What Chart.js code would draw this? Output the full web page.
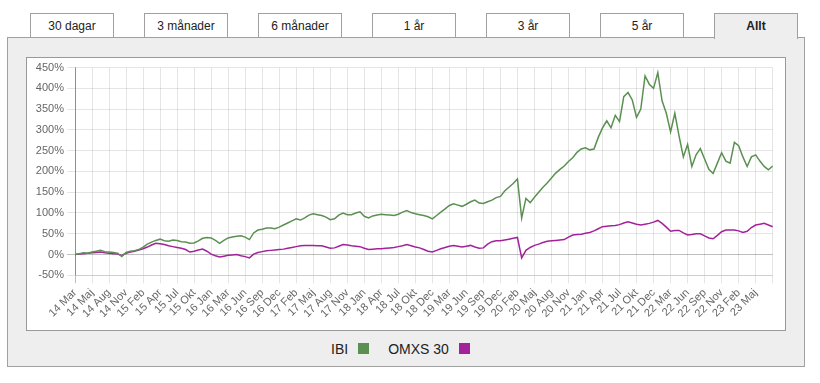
<!DOCTYPE html>
<html>
<head>
<meta charset="utf-8">
<script src="https://cdn.jsdelivr.net/npm/chart.js@4/dist/chart.umd.min.js"></script>
<style>
  body { margin: 0; background: #fff; width: 820px; height: 383px; position: relative; overflow: hidden;
         font-family: "Liberation Sans", Helvetica, Arial, sans-serif; }
  .tab { position: absolute; top: 13px; width: 84px; height: 25px; box-sizing: border-box;
         border: 1px solid #a0a0a0; border-bottom: none; background: #fff;
         font-size: 12px; color: #222; text-align: center; line-height: 24px; }
  .tab.active { background: #eee; font-weight: bold; height: 26px; z-index: 2; }
  #panel { position: absolute; left: 7px; top: 37px; width: 798px; height: 330px; box-sizing: border-box;
           border: 1px solid #a0a0a0; background: #eee; z-index: 1; }
  #plotBox { position: absolute; left: 26px; top: 57px; width: 760px; height: 274px; box-sizing: border-box;
             border: 1px solid #999; background: #fff; z-index: 2; }
  #chart { position: absolute; left: 27px; top: 58px; z-index: 3; }
  #legend { position: absolute; left: 331px; top: 340px; z-index: 3; font-size: 14px; color: #222;
            display: flex; align-items: center; height: 17px; }
  #legend .box { display: inline-block; width: 11px; height: 11px; margin-left: 10px; margin-right: 19px; }
</style>
</head>
<body>
<div id="tabs"></div>
<div id="panel"></div>
<div id="plotBox"></div>
<canvas id="chart" width="758" height="272"></canvas>
<div id="legend"></div>

<script>
// tabs above the chart
const tabNames = ['30 dagar', '3 månader', '6 månader', '1 år', '3 år', '5 år', 'Allt'];

// x tick labels (every 4th point)
const tickLabels = ['14 Mar', '14 Maj', '14 Aug', '14 Nov', '15 Feb', '15 Apr', '15 Jul', '15 Okt',
  '16 Jan', '16 Mar', '16 Jun', '16 Sep', '16 Dec', '17 Feb', '17 Maj', '17 Aug', '17 Nov',
  '18 Jan', '18 Apr', '18 Jul', '18 Okt', '18 Dec', '19 Mar', '19 Jun', '19 Sep', '19 Dec',
  '20 Feb', '20 Maj', '20 Aug', '20 Nov', '21 Jan', '21 Apr', '21 Jul', '21 Okt', '21 Dec',
  '22 Mar', '22 Jun', '22 Sep', '22 Nov', '23 Feb', '23 Maj'];

// development in % since start
const ibi = [0, 2, 4, 3, 6, 8, 10, 7, 6, 5, 3, -5, 5, 8, 9, 12, 18, 25, 30, 34,
  37, 33, 32, 35, 34, 31, 30, 27, 28, 33, 39, 41, 40, 34, 27, 34, 40, 42, 44, 45,
  42, 36, 52, 59, 61, 64, 64, 62, 66, 71, 76, 81, 86, 83, 88, 95, 98, 96, 94, 90,
  84, 86, 95, 100, 96, 96, 100, 103, 92, 88, 93, 95, 97, 96, 95, 94, 97, 102, 106, 101,
  98, 96, 94, 91, 86, 94, 102, 110, 118, 122, 119, 116, 121, 127, 131, 124, 123, 127, 131, 137,
  140, 153, 162, 171, 182, 88, 135, 125, 138, 150, 162, 172, 184, 196, 205, 213, 224, 233, 246, 254,
  257, 252, 254, 282, 305, 322, 305, 335, 320, 380, 390, 372, 330, 350, 430, 410, 400, 438, 370, 340,
  295, 340, 285, 235, 265, 212, 240, 255, 230, 205, 195, 220, 245, 225, 220, 270, 262, 235, 212, 235,
  240, 225, 212, 204, 213];

const omx = [0, 1, 2, 3, 4, 5, 6, 4, 3, 2, 1, -2, 3, 6, 8, 11, 14, 18, 23, 27,
  26, 24, 21, 19, 17, 15, 12, 6, 8, 11, 13, 8, 1, -3, -6, -4, -2, -1, 0, -3,
  -5, -8, 1, 5, 7, 9, 10, 11, 12, 13, 15, 17, 19, 21, 22, 22, 22, 21, 21, 18,
  15, 16, 20, 24, 23, 21, 20, 19, 15, 12, 13, 14, 14, 15, 16, 17, 19, 21, 24, 21,
  18, 16, 12, 8, 6, 10, 14, 17, 20, 22, 20, 18, 20, 22, 18, 15, 16, 25, 31, 33,
  33, 35, 37, 39, 41, -8, 10, 17, 22, 25, 29, 32, 33, 34, 35, 36, 42, 47, 48, 49,
  51, 53, 57, 62, 67, 68, 69, 70, 72, 76, 79, 76, 73, 71, 73, 75, 78, 82, 75, 66,
  56, 58, 58, 52, 47, 48, 50, 50, 45, 40, 38, 46, 55, 59, 59, 59, 57, 53, 56, 65,
  71, 73, 75, 71, 67];

const seriesNames = ['IBI', 'OMXS 30'];
const seriesColors = ['#5b9052', '#a3229c'];

// build tabs
const tabX = [30, 144, 258, 372, 486, 600, 714];
tabNames.forEach((name, i) => {
    const t = document.createElement('div');
    t.className = 'tab' + (i === tabNames.length - 1 ? ' active' : '');
    t.style.left = tabX[i] + 'px';
    t.textContent = name;
    document.getElementById('tabs').appendChild(t);
});

// legend
const legend = document.getElementById('legend');
seriesNames.forEach((name, i) => {
    const s = document.createElement('span');
    s.textContent = name;
    const b = document.createElement('span');
    b.className = 'box';
    b.style.background = seriesColors[i];
    legend.appendChild(s);
    legend.appendChild(b);
});

const labels = ibi.map((_, i) => i % 4 === 0 ? (tickLabels[i / 4] || '') : '');

const ctx = document.getElementById('chart').getContext('2d');
new Chart(ctx, {
    type: 'line',
    data: {
        labels: labels,
        datasets: [
            { label: seriesNames[0], data: ibi, borderColor: seriesColors[0], borderWidth: 1.5,
              pointRadius: 0, tension: 0, fill: false },
            { label: seriesNames[1], data: omx, borderColor: seriesColors[1], borderWidth: 1.5,
              pointRadius: 0, tension: 0, fill: false }
        ]
    },
    options: {
        responsive: false,
        animation: false,
        devicePixelRatio: 1,
        layout: { padding: { top: 8.7, right: 9, bottom: 0, left: 0 } },
        plugins: { legend: { display: false }, tooltip: { enabled: false } },
        scales: {
            x: {
                ticks: {
                    autoSkip: false, maxRotation: 45, minRotation: 45, color: '#666',
                    font: { family: 'Liberation Sans', size: 11 }
                },
                grid: {
                    color: c => c.index === 0 ? 'rgba(0,0,0,0.25)' : (c.index % 4 === 0 ? 'rgba(0,0,0,0.1)' : 'rgba(0,0,0,0)')
                },
                afterFit: s => { s.height = 54.7; }
            },
            y: {
                min: -50, max: 450,
                ticks: {
                    stepSize: 50, color: '#666', callback: v => v + '%',
                    font: { family: 'Liberation Sans', size: 11 }
                },
                grid: { color: c => c.tick && c.tick.value === 0 ? 'rgba(0,0,0,0.25)' : 'rgba(0,0,0,0.1)' },
                border: { color: 'rgba(0,0,0,0.25)' },
                afterFit: s => { s.width = 48; }
            }
        }
    }
});
</script>
</body>
</html>
